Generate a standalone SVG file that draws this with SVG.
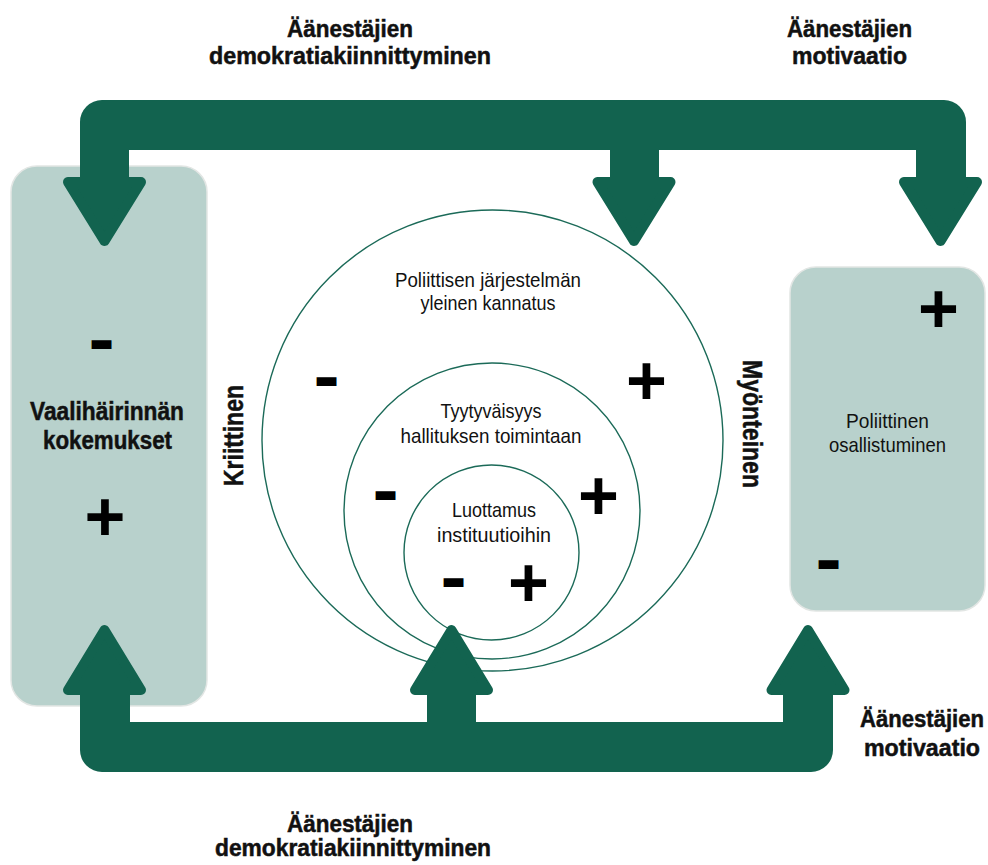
<svg xmlns="http://www.w3.org/2000/svg" width="988" height="865" viewBox="0 0 988 865">
<style>
.box{fill:#b8d1cc;stroke:#e2e6e4;stroke-width:1.5}
.ring{fill:none;stroke:#1b6a58;stroke-width:1.4}
.conn{fill:#12634f}
.head{fill:#12634f;stroke:#12634f;stroke-width:10;stroke-linejoin:round}
.t{font-family:"Liberation Sans",Arial,sans-serif;font-size:21px;fill:#111;text-anchor:middle}
.b{font-family:"Liberation Sans",Arial,sans-serif;font-weight:bold;fill:#111;stroke:#111;stroke-width:0.5;text-anchor:middle}
.b23{font-size:23px}
.b25{font-size:25px}
.b28{font-size:28px}
.plus{font-family:"Liberation Sans",Arial,sans-serif;font-weight:bold;font-size:70px;fill:#000;text-anchor:middle}
.minus{font-family:"Liberation Sans",Arial,sans-serif;font-weight:bold;font-size:28px;fill:#000;stroke:#000;stroke-width:6;stroke-linejoin:miter;text-anchor:middle}
</style>
<rect fill="#fff" x="0" y="0" width="988" height="865"/>

<g id="node-vaalihairinta">
<rect class="box" x="11" y="166" width="196" height="540" rx="26"/>
<text class="b b25" x="107" y="420" textLength="154" lengthAdjust="spacingAndGlyphs">Vaalihäirinnän</text>
<text class="b b25" x="107.5" y="449" textLength="129" lengthAdjust="spacingAndGlyphs">kokemukset</text>
<text class="minus" x="101.5" y="352">–</text>
<text class="plus" x="105" y="541.2">+</text>
</g>

<g id="node-osallistuminen">
<rect class="box" x="790" y="267" width="195" height="344" rx="26"/>
<text class="t" x="887.5" y="428" textLength="83" lengthAdjust="spacingAndGlyphs">Poliittinen</text>
<text class="t" x="887.5" y="452" textLength="117" lengthAdjust="spacingAndGlyphs">osallistuminen</text>
<text class="plus" x="938.5" y="332.7">+</text>
<text class="minus" x="828.5" y="571.6">–</text>
</g>

<g id="connectors">
<path class="conn" d="M80 180 L80 122 A22 22 0 0 1 102 100 L944 100 A22 22 0 0 1 966 122 L966 180 L916 180 L916 150 L659 150 L659 180 L610 180 L610 150 L129 150 L129 180 Z"/>
<polygon class="head" points="68,182 141,182 104.5,241"/>
<polygon class="head" points="597.5,182 670.5,182 634,241"/>
<polygon class="head" points="904,182 977,182 940.5,241"/>
</g>

<g id="node-kannatus">
<circle class="ring" cx="492.5" cy="440.5" r="230.5"/>
<text class="t" x="488" y="287" textLength="186" lengthAdjust="spacingAndGlyphs">Poliittisen järjestelmän</text>
<text class="t" x="488" y="310" textLength="135" lengthAdjust="spacingAndGlyphs">yleinen kannatus</text>
<text class="minus" x="326.5" y="388.6">–</text>
<text class="plus" x="646.5" y="405.2">+</text>
</g>

<g id="node-tyytyvaisyys">
<circle class="ring" cx="492" cy="511" r="148"/>
<text class="t" x="491" y="418" textLength="101" lengthAdjust="spacingAndGlyphs">Tyytyväisyys</text>
<text class="t" x="491" y="443" textLength="181" lengthAdjust="spacingAndGlyphs">hallituksen toimintaan</text>
<text class="minus" x="385.5" y="503.1">–</text>
<text class="plus" x="598.5" y="519.7">+</text>
</g>

<g id="node-luottamus">
<circle class="ring" cx="491.5" cy="552.5" r="87.5"/>
<text class="t" x="494" y="517" textLength="84" lengthAdjust="spacingAndGlyphs">Luottamus</text>
<text class="t" x="494" y="542" textLength="114" lengthAdjust="spacingAndGlyphs">instituutioihin</text>
<text class="minus" x="453.5" y="590.1">–</text>
<text class="plus" x="528.5" y="607.2">+</text>
</g>

<g id="connectors-bottom">
<path class="conn" d="M80 690 L80 750 A22 22 0 0 0 102 772 L811 772 A22 22 0 0 0 833 750 L833 690 L783 690 L783 722 L476 722 L476 690 L427 690 L427 722 L130 722 L130 690 Z"/>
<polygon class="head" points="68,690 141,690 104.5,630"/>
<polygon class="head" points="415,690 488,690 451.5,630"/>
<polygon class="head" points="771.5,690 844.5,690 808,630"/>
</g>

<g id="labels">
<text class="b b28" transform="translate(243 435.5) rotate(-90)" x="0" y="0" textLength="101" lengthAdjust="spacingAndGlyphs">Kriittinen</text>
<text class="b b28" transform="translate(743 424) rotate(90)" x="0" y="0" textLength="128" lengthAdjust="spacingAndGlyphs">Myönteinen</text>
<text class="b b23" x="350" y="36.7" textLength="126" lengthAdjust="spacingAndGlyphs">Äänestäjien</text>
<text class="b b23" x="350" y="64.3" textLength="282" lengthAdjust="spacingAndGlyphs">demokratiakiinnittyminen</text>
<text class="b b23" x="849.5" y="36.7" textLength="125" lengthAdjust="spacingAndGlyphs">Äänestäjien</text>
<text class="b b23" x="849.5" y="64.3" textLength="115" lengthAdjust="spacingAndGlyphs">motivaatio</text>
<text class="b b23" x="922" y="727" textLength="124" lengthAdjust="spacingAndGlyphs">Äänestäjien</text>
<text class="b b23" x="922" y="756" textLength="116" lengthAdjust="spacingAndGlyphs">motivaatio</text>
<text class="b b23" x="350" y="832" textLength="126" lengthAdjust="spacingAndGlyphs">Äänestäjien</text>
<text class="b b23" x="353" y="856" textLength="276" lengthAdjust="spacingAndGlyphs">demokratiakiinnittyminen</text>
</g>
</svg>
